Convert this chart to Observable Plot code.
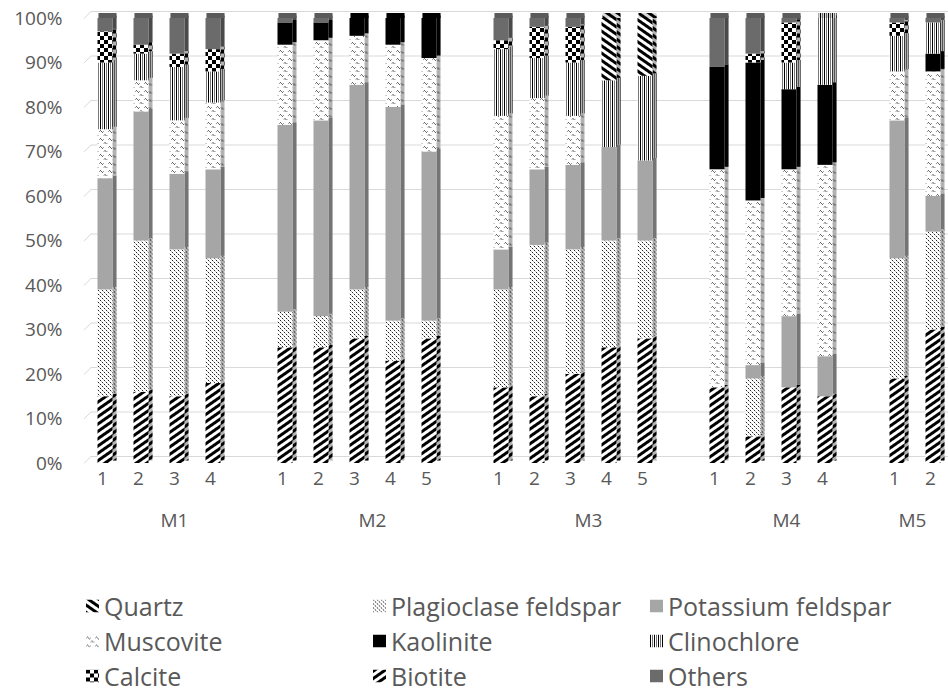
<!DOCTYPE html>
<html><head><meta charset="utf-8">
<script src="https://cdn.jsdelivr.net/npm/d3@7"></script>
<script src="https://cdn.jsdelivr.net/npm/@observablehq/plot@0.6"></script>
<style>
html,body{margin:0;padding:0;background:#fff;overflow:hidden;}
body{width:948px;height:694px;font-family:"Open Sans",sans-serif;}
#legend{position:relative;height:134px;color:#595959;font-size:25px;}
.item{position:absolute;display:flex;align-items:center;white-space:nowrap;line-height:1;transform:translateY(-50%);}
.item svg{margin-right:5px;flex:none;}
</style></head><body>
<svg width="0" height="0" style="position:absolute"><defs>
  <pattern id="p-biotite" patternUnits="userSpaceOnUse" width="6" height="6" patternTransform="rotate(55)">
    <rect width="6" height="6" fill="#fff"/><rect width="3" height="6" fill="#000"/>
  </pattern>
  <pattern id="p-quartz" patternUnits="userSpaceOnUse" width="6" height="6" patternTransform="rotate(-55)">
    <rect width="6" height="6" fill="#fff"/><rect width="3" height="6" fill="#000"/>
  </pattern>
  <pattern id="p-plag" patternUnits="userSpaceOnUse" width="4" height="4">
    <rect width="4" height="4" fill="#fff"/>
    <rect x="0" y="0" width="1" height="1" fill="#222"/>
    <rect x="2" y="2" width="1" height="1" fill="#222"/>
    <rect x="1" y="1" width="1" height="1" fill="#bbb"/>
    <rect x="3" y="3" width="1" height="1" fill="#bbb"/>
  </pattern>
  <pattern id="p-musc" patternUnits="userSpaceOnUse" width="9" height="8">
    <rect width="9" height="8" fill="#fff"/>
    <path d="M0.5 3.5 q1 -2 2 0 t2 0" fill="none" stroke="#333" stroke-width="1"/>
    <path d="M5 7.5 q1 -2 2 0 t2 0" fill="none" stroke="#333" stroke-width="1"/>
  </pattern>
  <pattern id="p-clino" patternUnits="userSpaceOnUse" width="4" height="4">
    <rect width="4" height="4" fill="#fff"/>
    <rect x="0" width="1" height="4" fill="#000"/>
    <rect x="2" width="1" height="4" fill="#777"/>
  </pattern>
  <pattern id="p-calcite" patternUnits="userSpaceOnUse" width="8" height="8">
    <rect width="8" height="8" fill="#fff"/>
    <rect x="0" y="0" width="4" height="4" fill="#000"/>
    <rect x="4" y="4" width="4" height="4" fill="#000"/>
  </pattern>
</defs></svg>
<div id="chart"></div>
<div id="legend"></div>
<script>
// ---- data ----
const minerals = ["Quartz","Plagioclase feldspar","Potassium feldspar","Muscovite","Kaolinite","Clinochlore","Calcite","Biotite","Others"];
const stackOrder = ["Biotite","Plagioclase feldspar","Potassium feldspar","Muscovite","Kaolinite","Clinochlore","Calcite","Quartz","Others"];
const groups = ["M1","M2","M3","M4","M5"];
const sampleLabels = [["1","2","3","4"],["1","2","3","4","5"],["1","2","3","4","5"],["1","2","3","4"],["1","2"]];
const yTicks = [0,10,20,30,40,50,60,70,80,90,100];

// values per bar, in order M1-1..4, M2-1..5, M3-1..5, M4-1..4, M5-1..2 (percent)
const biotite     = [15,16,15,18, 26,26,28,23,28, 17,15,20,26,28, 17,6,17,15, 19,30];
const plagioclase = [24,34,33,28,  8, 7,11, 9, 4, 22,34,28,24,22,  0,13,0,0, 27,22];
const kfeldspar   = [25,29,17,20, 42,44,46,48,38,  9,17,19,21,18,  0,3,16,9, 31,8];
const muscovite   = [11, 7,12,15, 18,18,11,14,21, 30,16,11, 0, 0, 49,37,33,43, 11,28];
const kaolinite   = [ 0, 0, 0, 0,  5, 4, 4, 6, 9,  0, 0, 0, 0, 0, 23,31,18,18, 0,4];
const clinochlore = [15, 6,12, 7,  0, 0, 0, 0, 0, 15, 9,12,15,19,  0,0,6,15, 8,7];
const calcite     = [ 7, 2, 3, 5,  0, 0, 0, 0, 0,  2, 7, 8, 0, 0,  0,2,9,0, 3,0];
const quartz      = [ 0, 0, 0, 0,  0, 0, 0, 0, 0,  0, 0, 0,14,13,  0,0,0,0, 0,0];
const others      = [ 3, 6, 8, 7,  1, 1, 0, 0, 0,  5, 2, 2, 0, 0, 11,8,1,0, 1,1];

const valuesByMineral = {
  "Quartz": quartz, "Plagioclase feldspar": plagioclase, "Potassium feldspar": kfeldspar,
  "Muscovite": muscovite, "Kaolinite": kaolinite, "Clinochlore": clinochlore,
  "Calcite": calcite, "Biotite": biotite, "Others": others
};
const fillOf = {
  "Quartz": "url(#p-quartz)", "Plagioclase feldspar": "url(#p-plag)", "Potassium feldspar": "#a6a6a6",
  "Muscovite": "url(#p-musc)", "Kaolinite": "#000000", "Clinochlore": "url(#p-clino)",
  "Calcite": "url(#p-calcite)", "Biotite": "url(#p-biotite)", "Others": "#6b6b6b"
};

// ---- build slots (a blank category after each group) ----
const bars = [];
const groupSpans = [];
let slot = 0, k = 0;
groups.forEach((g, gi) => {
  const start = slot;
  sampleLabels[gi].forEach(lab => { bars.push({slot, group: g, label: lab, k}); slot++; k++; });
  if (gi < groups.length - 1) slot++;
  groupSpans.push({group: g, center: (start + slot) / 2});
});
const nSlots = 24;

const rows = [];
bars.forEach(b => stackOrder.forEach(m => rows.push({slot: b.slot, mineral: m, value: valuesByMineral[m][b.k]})));
const tops = bars.map(b => {
  const top = stackOrder.filter(m => valuesByMineral[m][b.k] > 0).pop();
  return {slot: b.slot, mineral: top};
});

const labelAt = new Map(bars.map(b => [b.slot + 0.5, b.label]));
const groupAt = new Map(groupSpans.map(s => [s.center, s.group]));

const W = 948, H = 560, Y0 = 463, Y100 = 18, LEFT = 87, STEP = 36;
const yPerPct = (Y0 - Y100) / 100;

const chart = Plot.plot({
  width: W, height: H,
  marginTop: Y100, marginBottom: H - Y0, marginLeft: LEFT, marginRight: 0,
  x: {domain: [0, nSlots], range: [LEFT, LEFT + nSlots * STEP]},
  y: {domain: [0, 100], range: [Y0, Y100]},
  color: {type: "identity"},
  style: {fontFamily: "Open Sans, sans-serif", fontSize: "19px", color: "#595959", background: "white"},
  marks: [
    Plot.ruleY(yTicks, {y: d => d, x1: 0.1, x2: nSlots, dy: -7, stroke: "#d9d9d9", strokeWidth: 1}),
    Plot.link(yTicks, {x1: -0.1, x2: 0.1, y1: d => d, y2: d => d + 7 / yPerPct, stroke: "#d9d9d9"}),
    // side faces
    Plot.rectY(rows, {x1: d => d.slot, x2: d => d.slot + 1, y: "value", z: "mineral", fill: d => fillOf[d.mineral], insetLeft: 25.5, insetRight: 6.5, dy: -2.5}),
    Plot.rectY(rows, {x1: d => d.slot, x2: d => d.slot + 1, y: "value", z: "mineral", fill: "#000", fillOpacity: 0.3, insetLeft: 25.5, insetRight: 6.5, dy: -2.5}),
    // top faces
    Plot.rect(tops, {x1: d => d.slot, x2: d => d.slot + 1, y1: 100, y2: 100 + 5 / yPerPct, fill: d => fillOf[d.mineral], insetLeft: 11.5, insetRight: 6.5}),
    Plot.rect(tops, {x1: d => d.slot, x2: d => d.slot + 1, y1: 100, y2: 100 + 5 / yPerPct, fill: "#000", fillOpacity: 0.15, insetLeft: 11.5, insetRight: 6.5}),
    // front faces
    Plot.rectY(rows, {x1: d => d.slot, x2: d => d.slot + 1, y: "value", z: "mineral", fill: d => fillOf[d.mineral], insetLeft: 10.5, insetRight: 10.5}),
    Plot.axisY({ticks: yTicks, tickSize: 0, tickPadding: 25, tickFormat: d => d + "%", label: null}),
    Plot.axisX({ticks: [...labelAt.keys()], tickFormat: d => labelAt.get(d), tickSize: 0, tickPadding: 8, dx: -3, label: null}),
    Plot.axisX({ticks: [...groupAt.keys()], tickFormat: d => groupAt.get(d), tickSize: 0, tickPadding: 50, dx: -3, label: null})
  ]
});
document.getElementById("chart").appendChild(chart);

// ---- legend ----
const legend = document.getElementById("legend");
const colLeft = [86, 373, 650];
const rowCenter = [46, 81, 116];
minerals.forEach((m, i) => {
  const it = document.createElement("div");
  it.className = "item";
  it.style.left = colLeft[i % 3] + "px";
  it.style.top = rowCenter[Math.floor(i / 3)] + "px";
  it.innerHTML = `<svg width="13" height="13"><rect width="13" height="13" fill="${fillOf[m]}"/></svg><span>${m}</span>`;
  legend.appendChild(it);
});
</script>
</body></html>
